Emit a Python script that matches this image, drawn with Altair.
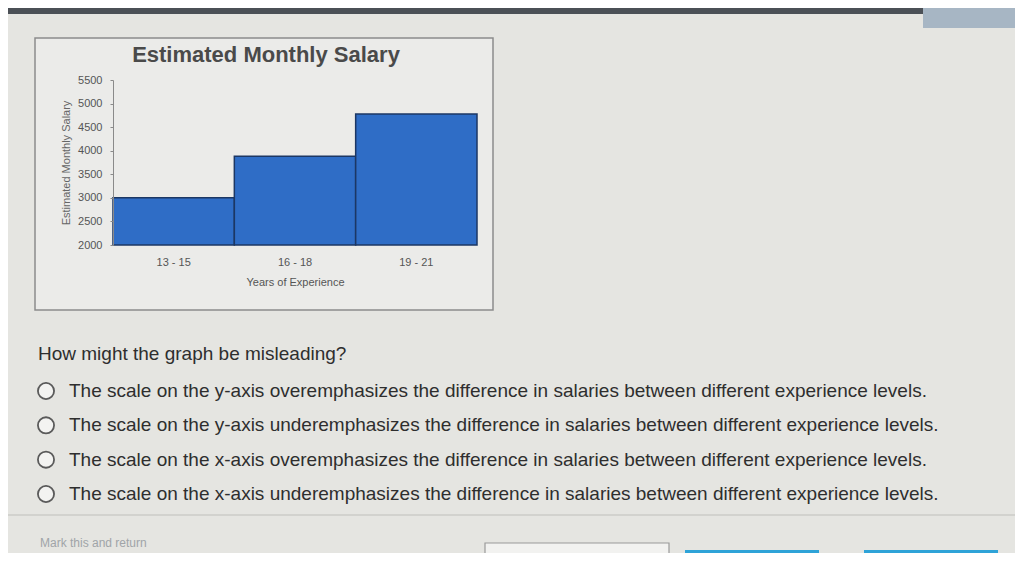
import altair as alt
import pandas as pd

# ---- data ----
experience = ["13 - 15", "16 - 18", "19 - 21"]
salary = [3000, 3880, 4780]
y_ticks = [2000, 2500, 3000, 3500, 4000, 4500, 5000, 5500]
chart_title = "Estimated Monthly Salary"
x_title = "Years of Experience"
y_title = "Estimated Monthly Salary"
question = "How might the graph be misleading?"
options = [
    "The scale on the y-axis overemphasizes the difference in salaries between different experience levels.",
    "The scale on the y-axis underemphasizes the difference in salaries between different experience levels.",
    "The scale on the x-axis overemphasizes the difference in salaries between different experience levels.",
    "The scale on the x-axis underemphasizes the difference in salaries between different experience levels.",
]
footer_link = "Mark this and return"

FONT = "Liberation Sans"

bars_df = pd.DataFrame({"exp": experience, "salary": salary})
opt_df = pd.DataFrame({"i": list(range(len(options))), "text": options})
one = alt.Data(values=[{"k": 1}])


def box(x, x2, y, y2, **kw):
    return alt.Chart(one).mark_rect(**kw).encode(
        x=alt.value(x), x2=alt.value(x2), y=alt.value(y), y2=alt.value(y2)
    )


def label(txt, x, y, **kw):
    return alt.Chart(one).mark_text(text=txt, font=FONT, **kw).encode(
        x=alt.value(x), y=alt.value(y)
    )


top_band = box(-113, 910, -80, -66, color="#4b5056")
top_right = box(810, 910, -80, -52, color="#a7b6c4")
frame = box(-78, 380, -42, 230, fill="#ebebe9", stroke="#8c8c8c", strokeWidth=1.5)

bars = alt.Chart(bars_df).mark_bar(
    color="#2f6dc6", stroke="#1c3764", strokeWidth=1.5
).encode(
    x=alt.X(
        "exp:N",
        sort=experience,
        scale=alt.Scale(paddingInner=0, paddingOuter=0),
        axis=alt.Axis(
            title=x_title, labelAngle=0, ticks=False, domain=False, zindex=1,
            labelPadding=11, titlePadding=9, labelFontSize=11, titleFontSize=11,
            titleFontWeight="normal", labelColor="#555555", titleColor="#555555",
        ),
    ),
    y=alt.Y(
        "salary:Q",
        scale=alt.Scale(domain=[2000, 5500], nice=False, zero=False),
        axis=alt.Axis(
            values=y_ticks, format="d", title=y_title, grid=False, tickSize=3,
            zindex=1, labelPadding=8, titlePadding=6, labelFontSize=11,
            titleFontSize=11, titleFontWeight="normal", labelColor="#555555",
            titleColor="#666666", domainColor="#8a8a8a", tickColor="#8a8a8a",
        ),
    ),
    y2=alt.datum(2000),
)

title = label(chart_title, 153, -25, fontSize=22, fontWeight="bold",
              color="#4a4a4a", align="center", baseline="middle")
q_text = label(question, -75, 274, fontSize=19, color="#2e2e2e",
               align="left", baseline="middle")

opt_scale = alt.Scale(domain=[0, 3], range=[311, 414], nice=False, zero=False)
circles = alt.Chart(opt_df).mark_circle(
    size=260, fill="#f3f3f1", stroke="#5a5a5a", strokeWidth=1.8, opacity=1
).encode(x=alt.value(-67), y=alt.Y("i:Q", scale=opt_scale, axis=None))
opt_text = alt.Chart(opt_df).mark_text(
    align="left", baseline="middle", fontSize=19, font=FONT, color="#2e2e2e"
).encode(
    x=alt.value(-44),
    y=alt.Y("i:Q", scale=opt_scale, axis=None),
    text="text:N",
)

separator = box(-113, 910, 434, 436, color="#d2d2ce")
link = label(footer_link, -73, 463, fontSize=12, color="#a0a4a8",
             align="left", baseline="middle")
btn_white = box(372, 556, 463, 480, fill="#f2f2f0", stroke="#9a9a9a", strokeWidth=1.2)
btn_blue1 = box(572, 706, 470, 480, color="#2ea3d8")
btn_blue2 = box(751, 885, 470, 480, color="#2ea3d8")

chart = alt.layer(
    top_band, top_right, frame, bars, title, q_text, circles, opt_text,
    separator, link, btn_white, btn_blue1, btn_blue2,
).resolve_scale(y="independent").properties(
    width=364,
    height=165,
    padding={"left": 105, "top": 72, "right": 538, "bottom": 308},
    autosize=alt.AutoSizeParams(type="none"),
).configure(
    background="#e5e5e1", font=FONT
).configure_view(stroke=None).configure_axis(labelFont=FONT, titleFont=FONT)

chart.save("out.html", embed_options={"renderer": "svg", "actions": False})
